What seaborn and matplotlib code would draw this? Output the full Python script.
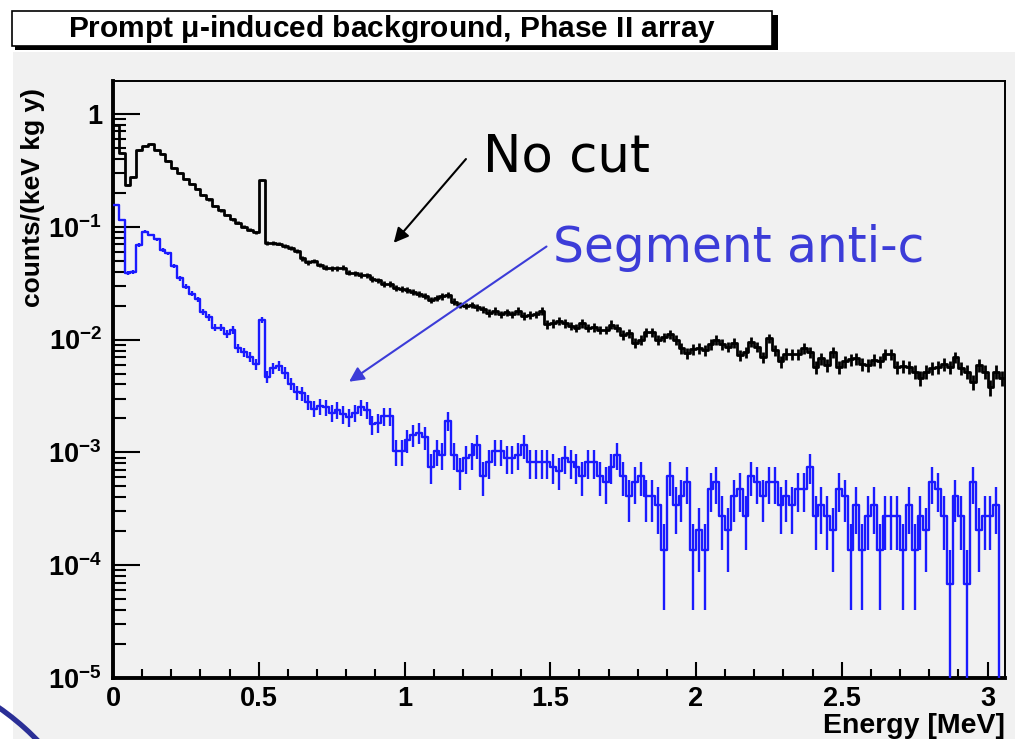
import numpy as np
import pandas as pd
import matplotlib
matplotlib.use("Agg")
import matplotlib.pyplot as plt
import seaborn as sns
from matplotlib.patches import Rectangle, Arc
from matplotlib.ticker import MultipleLocator, LogLocator, FuncFormatter, NullFormatter

# ---------------------------------------------------------------- data
bin_width = 0.02          # MeV
n_bins = 153              # 0 .. 3.06 MeV

# prompt muon-induced background, no cut  [counts/(keV kg y)]
no_cut_rate = [
    0.80, 0.45, 0.235, 0.278, 0.48, 0.524, 0.54, 0.48, 0.44, 0.383,
    0.334, 0.298, 0.264, 0.24, 0.216, 0.191, 0.175, 0.153, 0.14, 0.127,
    0.117, 0.109, 0.100, 0.094, 0.089, 0.26, 0.0714, 0.0714, 0.071, 0.068,
    0.0644, 0.0614, 0.0525, 0.0484, 0.050, 0.0458, 0.0434, 0.043, 0.043, 0.0434,
    0.0392, 0.0387, 0.0374, 0.037, 0.0345, 0.0334, 0.0311, 0.031, 0.0285, 0.0283,
    0.0275, 0.0266, 0.0254, 0.0245, 0.0224, 0.0233, 0.0242, 0.025, 0.0217, 0.0203,
    0.0199, 0.0203, 0.0193, 0.0186, 0.0173, 0.018, 0.0168, 0.0175, 0.0168, 0.018,
    0.0162, 0.0165, 0.0167, 0.018, 0.0137, 0.0139, 0.0146, 0.0139, 0.0132, 0.0127,
    0.0139, 0.0127, 0.0129, 0.0122, 0.0122, 0.0136, 0.0127, 0.011, 0.0114, 0.0093,
    0.0100, 0.0117, 0.0117, 0.0099, 0.0105, 0.0112, 0.0100, 0.0084, 0.00755, 0.0082,
    0.0084, 0.0081, 0.0091, 0.0099, 0.0091, 0.00865, 0.0093, 0.0073, 0.0077, 0.0095,
    0.00865, 0.0070, 0.0103, 0.0081, 0.0064, 0.0075, 0.0074, 0.0074, 0.0084, 0.0077,
    0.00575, 0.0068, 0.0059, 0.0077, 0.00575, 0.0064, 0.0067, 0.0068, 0.0061, 0.0059,
    0.0066, 0.0064, 0.0074, 0.0074, 0.00575, 0.0058, 0.0057, 0.0052, 0.00454, 0.0052,
    0.0056, 0.00575, 0.0061, 0.00575, 0.0070, 0.0056, 0.0052, 0.00423, 0.0059, 0.0052,
    0.0038, 0.0052, 0.00454,
]
no_cut_weight = 1e-4      # rate carried by one event, no cut

# after segment anti-coincidence: events per bin
segment_counts = [
    2294, 1691, 569, 588, 1015, 1331, 1244, 1140, 916, 856,
    660, 513, 432, 374, 335, 260, 231, 188, 188, 165,
    179, 124, 113, 104, 89, 219, 69, 82, 86, 75,
    60, 50, 49, 41, 36, 38, 37, 33, 35, 32,
    30, 33, 37, 35, 26, 27, 31, 31, 15, 15,
    19, 21, 22, 20, 11, 15, 14, 28, 14, 10,
    13, 14, 17, 9, 12, 15, 15, 13, 13, 14,
    17, 12, 12, 12, 12, 11, 10, 13, 12, 11,
    9, 12, 12, 9, 8, 11, 14, 9, 6, 8,
    9, 6, 6, 5, 2, 9, 5, 6, 8, 2,
    3, 2, 7, 8, 4, 3, 6, 7, 4, 9,
    8, 6, 8, 8, 5, 6, 5, 7, 7, 11,
    4, 5, 4, 3, 7, 6, 2, 5, 2, 4,
    5, 2, 4, 4, 4, 2, 5, 2, 4, 3,
    8, 7, 4, 1, 6, 4, 1, 8, 3, 4,
    4, 5, 0,
]
segment_weight = 6.8e-5   # rate carried by one event, anti-coincidence

x_ticks = [0, 0.5, 1, 1.5, 2, 2.5, 3]
x_tick_labels = ["0", "0.5", "1", "1.5", "2", "2.5", "3"]
title = r"Prompt $\mathregular{\mu}$-induced background, Phase II array"
x_label = "Energy [MeV]"
y_label = "counts/(keV kg y)"

# ---------------------------------------------------------------- derived
e_max = n_bins * bin_width
edges = np.arange(n_bins + 1) * bin_width
centers = edges[:-1] + bin_width / 2
black_rate = np.array(no_cut_rate)
black_err = np.sqrt(black_rate * no_cut_weight)
seg_n = np.array(segment_counts, dtype=float)
blue_rate = seg_n * segment_weight
blue_err = np.sqrt(seg_n) * segment_weight

df = pd.concat([
    pd.DataFrame({"energy": centers, "rate": black_rate, "sel": "No cut"}),
    pd.DataFrame({"energy": centers, "rate": blue_rate, "sel": "Segment anti-c"}),
], ignore_index=True)

# ---------------------------------------------------------------- style
W, H = 1015, 739
BG = "#f1f1f1"
BLUE = "#1a1aff"
plt.rcParams["font.family"] = ["Liberation Sans", "DejaVu Sans"]
plt.rcParams["mathtext.fontset"] = "custom"
plt.rcParams["mathtext.rm"] = "Liberation Sans:bold"
plt.rcParams["mathtext.bf"] = "Liberation Sans:bold"

fig = plt.figure(figsize=(W / 100, H / 100), dpi=100, facecolor=BG)
ax = fig.add_axes([113 / W, 1 - 678 / H, (1005 - 113) / W, (678 - 81) / H])
ax.set_facecolor(BG)
ax.set_yscale("log")

for name, color, lw in [("No cut", "black", 2.0), ("Segment anti-c", BLUE, 1.7)]:
    sub = df[df["sel"] == name]
    sns.histplot(data=sub, x="energy", weights="rate", bins=n_bins,
                 binrange=(0, e_max), element="step", fill=False,
                 color=color, linewidth=lw, ax=ax, zorder=3)

# Poisson error bars
ax.vlines(centers, black_rate - black_err, black_rate + black_err,
          color="black", lw=2.0, zorder=3)
has = seg_n > 0
lo = np.clip(blue_rate - blue_err, 1e-8, None)
ax.vlines(centers[has], lo[has], (blue_rate + blue_err)[has],
          color=BLUE, lw=1.7, zorder=3)

ax.set_xlim(0, e_max)
ax.set_ylim(1e-5, 1.96)

# ticks, ROOT style: inward, left and bottom only
ax.set_xticks(x_ticks, x_tick_labels)
ax.xaxis.set_minor_locator(MultipleLocator(0.1))
ax.yaxis.set_major_locator(LogLocator(base=10, numticks=20))
ax.yaxis.set_minor_locator(LogLocator(base=10, subs=np.arange(2, 10), numticks=50))
ax.yaxis.set_minor_formatter(NullFormatter())


def ylab(v, pos):
    k = int(round(np.log10(v)))
    if k == 0:
        return "1"
    return r"$\mathbf{10^{%d}}$" % k


ax.yaxis.set_major_formatter(FuncFormatter(ylab))
ax.tick_params(axis="x", which="major", direction="in", length=11.5, width=1.5,
               pad=6, labelsize=19.5, top=False)
ax.tick_params(axis="x", which="minor", direction="in", length=6.5, width=1.5, top=False)
ax.tick_params(axis="y", which="major", direction="in", length=19.5, width=1.5,
               pad=8, labelsize=19.5, right=False)
ax.tick_params(axis="y", which="minor", direction="in", length=9.5, width=1.5, right=False)
for lab in ax.get_xticklabels() + ax.get_yticklabels():
    lab.set_fontweight("bold")

for side, lw in [("left", 2.8), ("bottom", 2.8), ("top", 1.4), ("right", 1.4)]:
    ax.spines[side].set_linewidth(lw)
    ax.spines[side].set_color("black")

ax.set_xlabel("")
ax.set_ylabel("")
fig.text(1005 / W, 1 - 726 / H, x_label, ha="right", va="center",
         fontsize=20.5, fontweight="bold")
fig.text(33 / W, 1 - 88 / H, y_label, ha="center", va="top", rotation=90,
         fontsize=19, fontweight="bold")

# header strip, left margin and title box
fig.patches.append(Rectangle((0, 1 - 52 / H), 1, 52 / H, transform=fig.transFigure,
                             facecolor="white", edgecolor="none", zorder=0))
fig.patches.append(Rectangle((0, 0), 13 / W, 1, transform=fig.transFigure,
                             facecolor="white", edgecolor="none", zorder=0))
fig.patches.append(Rectangle((15 / W, 1 - 50 / H), (775 - 12) / W, 35 / H,
                             transform=fig.transFigure, facecolor="black",
                             edgecolor="none", zorder=1))
fig.patches.append(Rectangle((12 / W, 1 - 46 / H), (772 - 12) / W, 35 / H,
                             transform=fig.transFigure, facecolor="white",
                             edgecolor="black", lw=1.2, zorder=2))
fig.text(392 / W, 1 - 29 / H, title, ha="center", va="center",
         fontsize=21.5, fontweight="bold", zorder=3)

# slide corner ornament
fig.patches.append(Arc((-150, -183), 2 * 261, 2 * 261, theta1=38, theta2=58,
                       transform=None, color="#2b2f96", lw=3.8, zorder=5))

# hand-written annotations
ax.text(1.27, 0.31, "No cut", fontsize=37, color="black",
        family=["DejaVu Sans"], ha="left", va="baseline", zorder=6)
ax.text(1.51, 0.049, "Segment anti-c", fontsize=35, color="#3c3cd8",
        family=["DejaVu Sans"], ha="left", va="baseline", zorder=6)
ax.annotate("", xy=(0.957, 0.069), xytext=(1.217, 0.416),
            arrowprops=dict(arrowstyle="-|>", color="black", lw=1.5,
                            mutation_scale=22), zorder=6)
ax.annotate("", xy=(0.802, 0.0041), xytext=(1.495, 0.069),
            arrowprops=dict(arrowstyle="-|>", color="#3c3cd8", lw=1.5,
                            mutation_scale=22), zorder=6)

fig.savefig("out.png", dpi=100, facecolor=BG)
